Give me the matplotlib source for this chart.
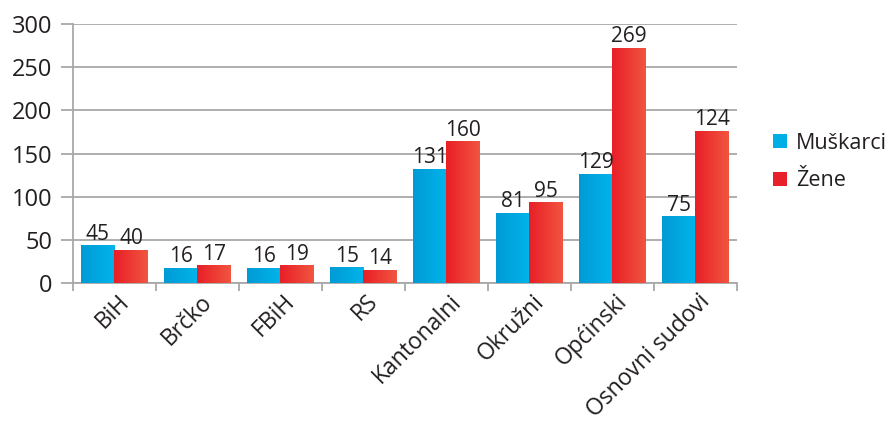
import numpy as np
import matplotlib.pyplot as plt
from matplotlib.colors import LinearSegmentedColormap
from matplotlib.patches import Patch
from matplotlib import transforms

# --- data ---
categories = ["BiH", "Brčko", "FBiH", "RS", "Kantonalni", "Okružni", "Općinski", "Osnovni sudovi"]
men = [43, 17, 17, 18, 132, 81, 126, 77]          # drawn bar heights
women = [38, 20, 20, 15, 164, 93, 272, 176]
men_labels = ["45", "16", "16", "15", "131", "81", "129", "75"]   # printed value labels
women_labels = ["40", "17", "19", "14", "160", "95", "269", "124"]
series_names = ["Muškarci", "Žene"]

plt.rcParams['font.family'] = ['Open Sans', 'DejaVu Sans']
text_col = "#231f20"
grid_col = "#a8a8a8"

blue_cm = LinearSegmentedColormap.from_list("b", ["#009bd5", "#00b4ea"])
red_cm = LinearSegmentedColormap.from_list("r", ["#e81f27", "#f15540"])

fig = plt.figure(figsize=(8.89, 4.30), dpi=100)
ax = fig.add_axes([0.082, 0.342, 0.747, 0.602])

x = np.arange(len(categories))
w = 0.4
grad = np.linspace(0, 1, 64).reshape(1, -1)

def draw_bars(xs, vals, cmap):
    for xi, v in zip(xs, vals):
        ax.imshow(grad, cmap=cmap, extent=[xi - w / 2, xi + w / 2, 0, v],
                  aspect='auto', zorder=3, interpolation='bilinear')

draw_bars(x - w / 2, men, blue_cm)
draw_bars(x + w / 2, women, red_cm)

# value labels
for xi, v, lab in zip(x - w / 2, men, men_labels):
    ax.text(xi, v + 1, lab, ha='center', va='bottom', fontsize=15, color=text_col, zorder=4)
for xi, v, lab in zip(x + w / 2, women, women_labels):
    ax.text(xi, v + 1, lab, ha='center', va='bottom', fontsize=15, color=text_col, zorder=4)

ax.set_xlim(-0.5, len(categories) - 0.5)
ax.set_ylim(0, 300)
ax.set_yticks(range(0, 301, 50))
ax.yaxis.grid(True, color=grid_col, linewidth=1.3, zorder=0)
ax.set_axisbelow(True)

for s in ["top", "right"]:
    ax.spines[s].set_visible(False)
for s in ["left", "bottom"]:
    ax.spines[s].set_color(grid_col)
    ax.spines[s].set_linewidth(1.3)

ax.tick_params(axis='y', length=8.6, color=grid_col, width=1.3, labelsize=17,
               labelcolor=text_col, pad=6)
ax.set_xticks(x)
ax.set_xticks(np.arange(-0.5, len(categories), 1), minor=True)
ax.tick_params(axis='x', which='major', length=0, pad=5)
ax.tick_params(axis='x', which='minor', length=6, color=grid_col, width=1.3)
offset = transforms.ScaledTranslation(2 / 72, 0, fig.dpi_scale_trans)
ax.set_xticklabels(categories, rotation=45, ha='right', rotation_mode='anchor',
                   fontsize=16.5, color=text_col)
for lbl in ax.get_xticklabels():
    lbl.set_transform(lbl.get_transform() + offset)

handles = [Patch(facecolor="#00aee6"), Patch(facecolor="#e8202a")]
fig.legend(handles, series_names, loc='center left', bbox_to_anchor=(0.848, 0.623),
           frameon=False, fontsize=15.5, handlelength=0.62, handleheight=0.62,
           handletextpad=0.45, labelspacing=0.75, labelcolor=text_col)

fig.savefig("out.png", dpi=100)
